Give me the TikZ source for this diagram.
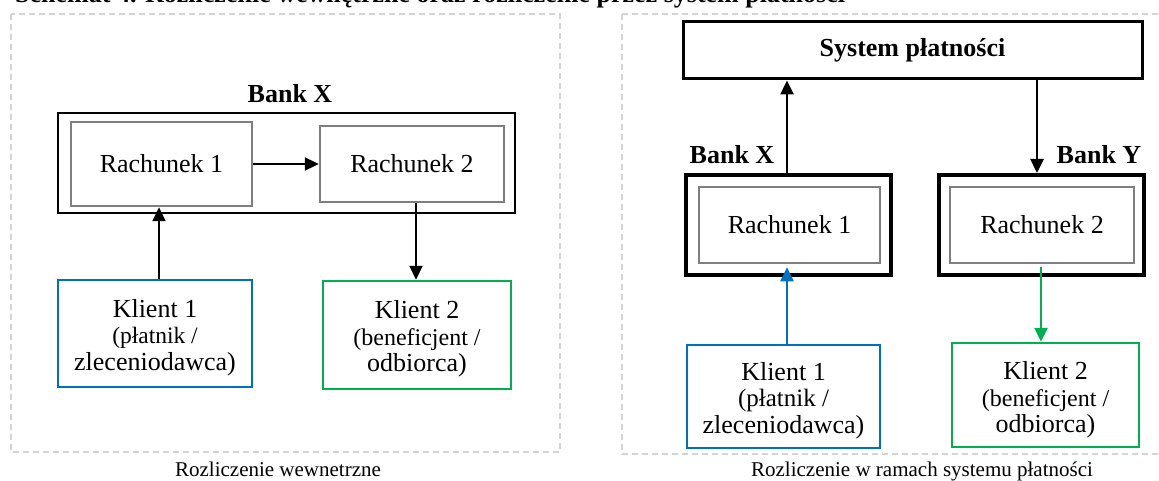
\documentclass[tikz,border=0pt]{standalone}
\usepackage{fontspec}
\setmainfont{Liberation Serif}
\usetikzlibrary{arrows.meta}
\definecolor{kblue}{HTML}{0070C0}
\definecolor{kgreen}{HTML}{00B050}
\definecolor{acct}{HTML}{7F7F7F}
\definecolor{panel}{HTML}{D4D4D4}
\newcommand\subsz[1]{\fontsize{#1}{26.5}\selectfont}
\begin{document}
\begin{tikzpicture}[x=1pt,y=-1pt,
  box/.style={draw, rectangle, inner sep=0pt, align=center},
  panelframe/.style={draw=panel, line width=1.2pt, dash pattern=on 6pt off 4pt},
  bank/.style={box, line width=#1},
  acctbox/.style={box, draw=acct, line width=2.5pt, font=\fontsize{26}{30}\selectfont},
  client/.style={box, line width=2.5pt},
  clienttext/.style={inner sep=0pt, align=center, font=\fontsize{26}{26.5}\selectfont},
  lbl/.style={font=\fontsize{26}{30}\selectfont\bfseries, inner sep=0pt},
  caption/.style={font=\fontsize{21}{25}\selectfont, inner sep=0pt},
  arr/.style={line width=#1, -{Triangle[length=14pt,width=13pt]}},
  arr/.default=2.2pt
]
\useasboundingbox (0,0) rectangle (1159,481);
\clip (0,0) rectangle (1159,481);

% heading (only its lower edge falls inside the page)
\node[lbl, anchor=base west] (title) at (15,3)
  {Schemat 4. Rozliczenie wewnętrzne oraz rozliczenie przez system płatności};

% ---------- internal settlement ----------
\draw[panelframe] (11,14) rectangle (560,452);

\node[bank=2pt, minimum width=457pt, minimum height=100pt] (bankL) at (286.5,163) {};
\node[lbl, anchor=base] (bankLlbl) at (290,103) {Bank X};

\node[acctbox, minimum width=181pt, minimum height=84pt] (r1) at (161.5,164) {Rachunek 1};
\node[acctbox, minimum width=184pt, minimum height=76pt] (r2) at (412,164) {Rachunek 2};

\node[client, draw=kblue, minimum width=194pt, minimum height=107pt] (k1) at (155,333.5) {};
\node[clienttext] (k1t) at ([yshift=-4pt]k1.center)
  {Klient 1\\ \subsz{23.5}(płatnik /\\ zleceniodawca)};
\node[client, draw=kgreen, minimum width=188pt, minimum height=108pt] (k2) at (417,335) {};
\node[clienttext] (k2t) at ([yshift=-4pt]k2.center)
  {Klient 2\\ \subsz{24}(beneficjent /\\ odbiorca)};

\coordinate (xa) at (159,0);
\coordinate (xb) at (416,0);
\draw[arr] (r1.east) -- (r2.west);
\draw[arr] (k1.north -| xa) -- (r1.south -| xa);
\draw[arr] (r2.south -| xb) -- (k2.north -| xb);

\node[caption, anchor=base] (capL) at (278,476) {Rozliczenie wewnetrzne};

% ---------- settlement through the payment system ----------
\draw[panelframe] (622,14) rectangle (1175,454);

\node[bank=3pt, minimum width=459pt, minimum height=57pt, font=\fontsize{26}{30}\selectfont\bfseries]
  (sys) at (912.5,50.5) {System płatności};

\node[bank=4pt, minimum width=205pt, minimum height=100pt] (bx) at (788.5,225) {};
\node[bank=4pt, minimum width=205pt, minimum height=100pt] (by) at (1041.5,225) {};
\node[lbl, anchor=base] (bxlbl) at (732,164) {Bank X};
\node[lbl, anchor=base] (bylbl) at (1099,164) {Bank Y};

\node[acctbox, minimum width=181pt, minimum height=76pt] (rr1) at (789.5,225) {Rachunek 1};
\node[acctbox, minimum width=184pt, minimum height=76pt] (rr2) at (1042,225) {Rachunek 2};

\node[client, draw=kblue, minimum width=193pt, minimum height=103pt] (kk1) at (783.5,396.5) {};
\node[clienttext] (kk1t) at ([yshift=-4pt]kk1.center)
  {Klient 1\\ \subsz{25}(płatnik /\\ zleceniodawca)};
\node[client, draw=kgreen, minimum width=187pt, minimum height=104pt] (kk2) at (1045.5,395) {};
\node[clienttext] (kk2t) at ([yshift=-5pt]kk2.center)
  {Klient 2\\ \subsz{24}(beneficjent /\\ odbiorca)};

\coordinate (xc) at (787,0);
\coordinate (xd) at (1037,0);
\coordinate (xe) at (1041,0);
\draw[arr=2.5pt] (bx.north -| xc) -- (sys.south -| xc);
\draw[arr=2.5pt] (sys.south -| xd) -- (by.north -| xd);
\draw[arr=2.5pt, draw=kblue, fill=kblue, shorten >=3pt] (kk1.north -| xc) -- (rr1.south -| xc);
\draw[arr=2.5pt, draw=kgreen, fill=kgreen, shorten <=3pt] (rr2.south -| xe) -- (kk2.north -| xe);

\node[caption, anchor=base] (capR) at (922,476) {Rozliczenie w ramach systemu płatności};
\end{tikzpicture}
\end{document}
